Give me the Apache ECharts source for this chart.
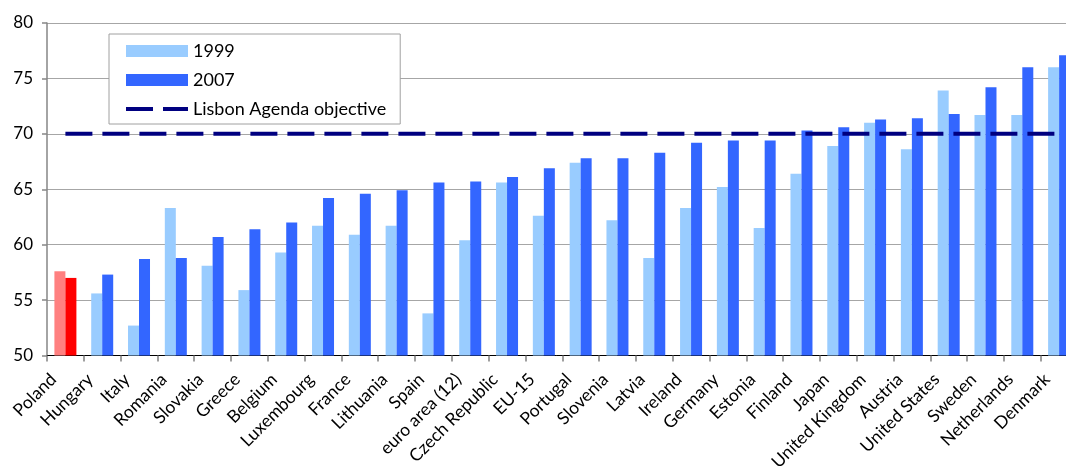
<!DOCTYPE html>
<html>
<head>
<meta charset="utf-8">
<script src="https://cdn.jsdelivr.net/npm/echarts@6/dist/echarts.min.js"></script>
<style>
  html, body { margin: 0; padding: 0; background: #fff; }
  #chart { width: 1066px; height: 468px; }
</style>
</head>
<body>
<div id="chart"></div>
<script>
// Employment rate, ages 15-64 (%), 1999 vs 2007
const countries = ['Poland', 'Hungary', 'Italy', 'Romania', 'Slovakia', 'Greece', 'Belgium',
  'Luxembourg', 'France', 'Lithuania', 'Spain', 'euro area (12)', 'Czech Republic', 'EU-15',
  'Portugal', 'Slovenia', 'Latvia', 'Ireland', 'Germany', 'Estonia', 'Finland', 'Japan',
  'United Kingdom', 'Austria', 'United States', 'Sweden', 'Netherlands', 'Denmark'];

const rate1999 = [57.6, 55.6, 52.7, 63.3, 58.1, 55.9, 59.3, 61.7, 60.9, 61.7, 53.8, 60.4, 65.6, 62.6,
  67.4, 62.2, 58.8, 63.3, 65.2, 61.5, 66.4, 68.9, 71.0, 68.6, 73.9, 71.7, 71.7, 76.0];

const rate2007 = [57.0, 57.3, 58.7, 58.8, 60.7, 61.4, 62.0, 64.2, 64.6, 64.9, 65.6, 65.7, 66.1, 66.9,
  67.8, 67.8, 68.3, 69.2, 69.4, 69.4, 70.3, 70.6, 71.3, 71.4, 71.8, 74.2, 76.0, 77.1];

const lisbonTarget = 70;
const yTicks = { min: 50, max: 80, step: 5 };

const highlight = 'Poland';
const colors = { y1999: '#99CCFF', y2007: '#3366FF', hl1999: '#FF8080', hl2007: '#FF0000', target: '#000080' };

// the highlighted country gets its own pair of colours
function colored(values, hl) {
  return values.map((v, i) => countries[i] === highlight
    ? { value: v, itemStyle: { color: hl } }
    : v);
}

// legend key for the target line: two dashes inside a 62x12 box
const dashIcon = 'path://M0,0h0.01v0.01h-0.01z M0,4h27v4h-27z M37,4h25v4h-25z M61.99,11.99h0.01v0.01h-0.01z';

const font = 'Lato, "Open Sans", sans-serif';
const chart = echarts.init(document.getElementById('chart'), null, { renderer: 'canvas' });

chart.setOption({
  animation: false,
  backgroundColor: '#ffffff',
  textStyle: { fontFamily: font, color: '#000' },
  grid: { left: 47, top: 23, right: -11.5, bottom: 112.5, containLabel: false, outerBoundsMode: 'none' },
  legend: {
    orient: 'vertical',
    left: 109,
    top: 34,
    itemWidth: 62,
    itemHeight: 12,
    itemGap: 11,
    padding: [8, 14, 6, 17],
    backgroundColor: '#fff',
    borderColor: '#A0A0A0',
    borderWidth: 1,
    textStyle: { fontFamily: font, fontSize: 18, color: '#000' },
    data: [
      { name: '1999', icon: 'rect', itemStyle: { color: colors.y1999 } },
      { name: '2007', icon: 'rect', itemStyle: { color: colors.y2007 } },
      { name: 'Lisbon Agenda objective', icon: dashIcon, itemStyle: { color: colors.target } }
    ]
  },
  xAxis: {
    type: 'category',
    data: countries,
    boundaryGap: true,
    axisLine: { show: true, lineStyle: { color: '#000', width: 1 } },
    axisTick: { show: true, length: 6, inside: false, lineStyle: { color: '#808080', width: 1.5 } },
    axisLabel: { rotate: 45, fontSize: 17.5, color: '#000', margin: 9, padding: [0, 17, 0, 0], fontFamily: font, interval: 0 },
    splitLine: { show: false }
  },
  yAxis: {
    type: 'value',
    min: yTicks.min,
    max: yTicks.max,
    interval: yTicks.step,
    axisLine: { show: true, lineStyle: { color: '#868686', width: 1.5 } },
    axisTick: { show: true, length: 5, lineStyle: { color: '#868686', width: 1.5 } },
    axisLabel: { fontSize: 17, color: '#000', margin: 14, fontFamily: font },
    splitLine: { show: true, lineStyle: { color: '#A6A6A6', width: 1.2 } }
  },
  series: [
    {
      name: '1999',
      type: 'bar',
      data: colored(rate1999, colors.hl1999),
      itemStyle: { color: colors.y1999 },
      barWidth: 11,
      barGap: '0%',
      z: 2
    },
    {
      name: '2007',
      type: 'bar',
      data: colored(rate2007, colors.hl2007),
      itemStyle: { color: colors.y2007 },
      barWidth: 11,
      barGap: '0%',
      z: 2
    },
    {
      name: 'Lisbon Agenda objective',
      type: 'line',
      data: countries.map(() => lisbonTarget),
      symbol: 'none',
      showSymbol: false,
      lineStyle: { color: colors.target, width: 4, type: [27, 10], cap: 'butt' },
      itemStyle: { color: colors.target },
      z: 5
    }
  ]
});
</script>
</body>
</html>
